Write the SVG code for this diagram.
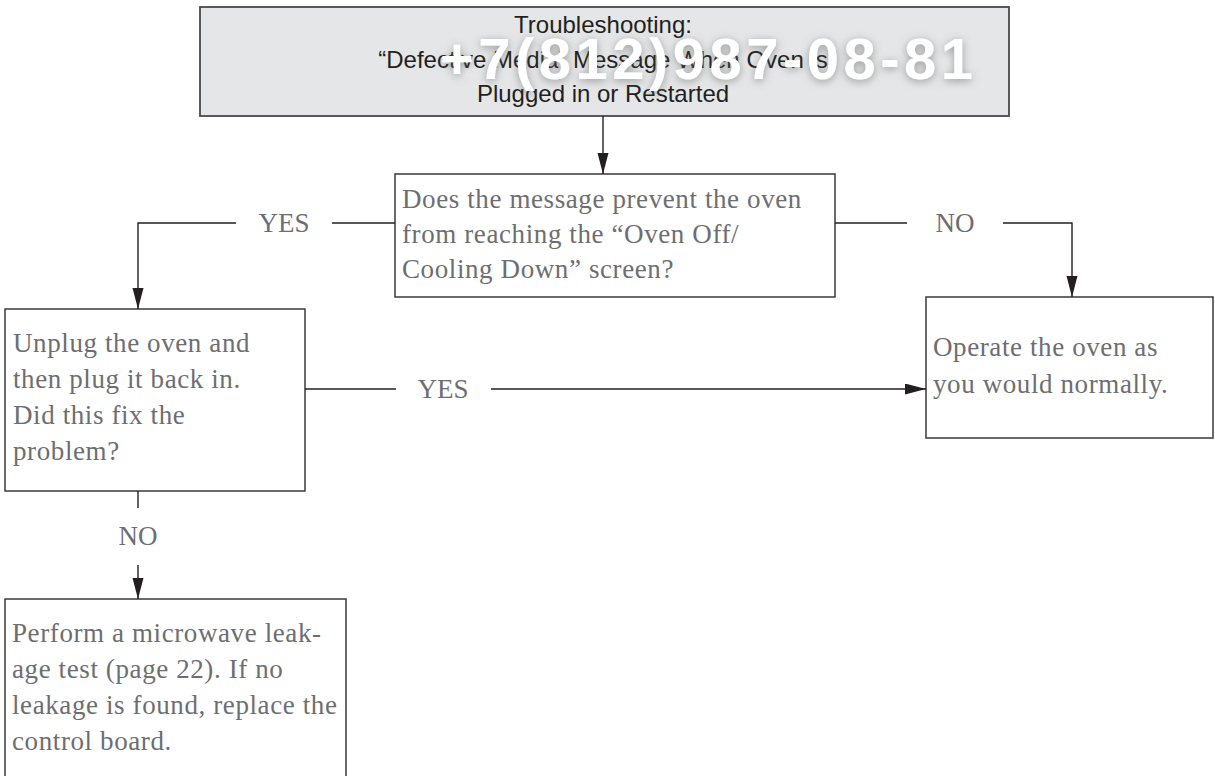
<svg xmlns="http://www.w3.org/2000/svg" width="1215" height="776" viewBox="0 0 1215 776">
<style>
  .box{fill:#ffffff;stroke:#3a3a3c;stroke-width:1.5}
  .title-box{fill:#e5e6e7;stroke:#4a4a4c;stroke-width:1.8}
  .conn{fill:none;stroke:#231f20;stroke-width:1.4}
  .body{font-family:"Liberation Serif","Times New Roman",serif;font-size:27px;fill:#6d6e71;letter-spacing:0.6px}
  .lbl{font-family:"Liberation Serif","Times New Roman",serif;font-size:27px;fill:#6d6e71;text-anchor:middle}
  .ttl{font-family:"Liberation Sans",Arial,sans-serif;font-size:24px;fill:#231f20;text-anchor:middle}
  .wm{font-family:"Liberation Sans",Arial,sans-serif;font-size:58px;font-weight:bold;fill:#ffffff}
</style>
<defs>
  <marker id="arr" markerUnits="userSpaceOnUse" markerWidth="22" markerHeight="12" refX="21" refY="5.5" orient="auto">
    <path d="M0,0 L21,5.5 L0,11 Z" fill="#231f20"/>
  </marker>
  <filter id="wmshadow" x="-10%" y="-60%" width="120%" height="220%">
    <feDropShadow dx="0" dy="2" stdDeviation="4" flood-color="#666666" flood-opacity="0.6"/>
  </filter>
</defs>
<rect width="1215" height="776" fill="#ffffff"/>

<g id="title">
  <rect class="title-box" x="200" y="7" width="809" height="109"/>
  <text class="ttl" x="603" y="33">Troubleshooting:</text>
  <text class="ttl" x="603" y="68">“Defective Media” Message When Oven is</text>
  <text class="ttl" x="603" y="102">Plugged in or Restarted</text>
  <text class="wm" x="440" y="79" textLength="533" lengthAdjust="spacing" filter="url(#wmshadow)">+7(812)987-08-81</text>
</g>

<g id="question">
  <rect class="box" x="395" y="174" width="440" height="123"/>
  <text class="body" x="402" y="208">Does the message prevent the oven</text>
  <text class="body" x="402" y="243">from reaching the “Oven Off/</text>
  <text class="body" x="402" y="278">Cooling Down” screen?</text>
</g>

<g id="unplug">
  <rect class="box" x="5" y="309" width="300" height="182"/>
  <text class="body" x="13" y="352">Unplug the oven and</text>
  <text class="body" x="13" y="388">then plug it back in.</text>
  <text class="body" x="13" y="424">Did this fix the</text>
  <text class="body" x="13" y="460">problem?</text>
</g>

<g id="operate">
  <rect class="box" x="926" y="297" width="287" height="141"/>
  <text class="body" x="933" y="356">Operate the oven as</text>
  <text class="body" x="933" y="393">you would normally.</text>
</g>

<g id="perform">
  <rect class="box" x="5" y="599" width="341" height="190"/>
  <text class="body" x="12" y="642">Perform a microwave leak-</text>
  <text class="body" x="12" y="678">age test (page 22). If no</text>
  <text class="body" x="12" y="714">leakage is found, replace the</text>
  <text class="body" x="12" y="750">control board.</text>
</g>

<g id="connectors">
  <path class="conn" d="M603,116 V174" marker-end="url(#arr)"/>
  <path class="conn" d="M395,223 H332"/>
  <path class="conn" d="M236,223 H138 V309" marker-end="url(#arr)"/>
  <path class="conn" d="M835,223 H907"/>
  <path class="conn" d="M1003,223 H1072 V297" marker-end="url(#arr)"/>
  <path class="conn" d="M305,389 H396"/>
  <path class="conn" d="M491,389 H926" marker-end="url(#arr)"/>
  <path class="conn" d="M138,491 V508"/>
  <path class="conn" d="M138,565 V599" marker-end="url(#arr)"/>
  <text class="lbl" x="284" y="232">YES</text>
  <text class="lbl" x="955" y="232">NO</text>
  <text class="lbl" x="443" y="398">YES</text>
  <text class="lbl" x="138" y="545">NO</text>
</g>
</svg>
